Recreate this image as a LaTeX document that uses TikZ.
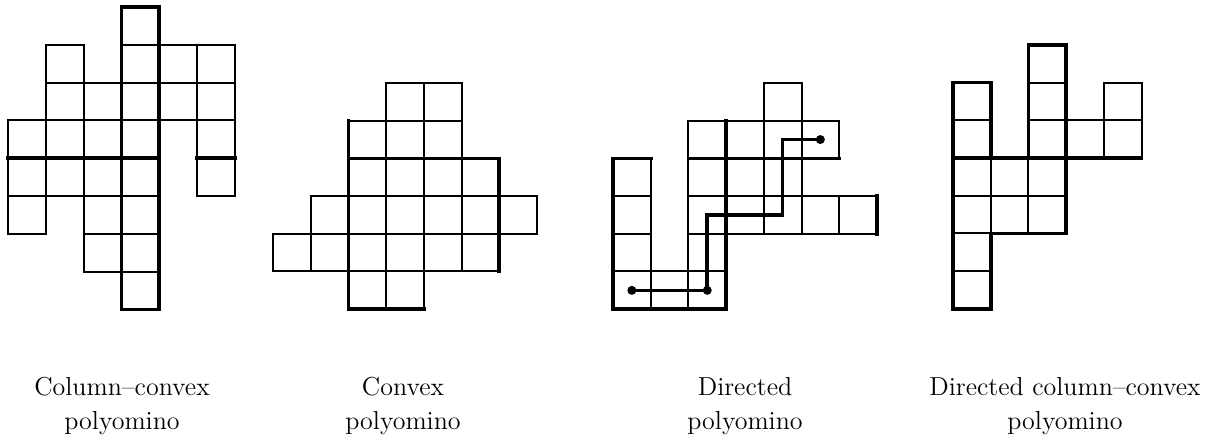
\documentclass[tikz,border=0pt]{standalone}
\begin{document}
\begin{tikzpicture}[x=0.5pt,y=-0.5pt,
  cell/.style={draw=black,line width=1pt},
  bold/.style={draw=black,line width=1.8pt,line cap=rect},
  walk/.style={draw=black,line width=1.8pt,line join=miter},
  dot/.style={circle,fill=black,inner sep=0pt,minimum size=4.5pt},
  lab/.style={anchor=base,inner sep=0pt,font=\fontsize{13}{16}\selectfont}]
\useasboundingbox (0,0) rectangle (1218,437);

% ---------- Column-convex polyomino ----------
\begin{scope}[shift={(8,7)},x=18.9pt,y=-18.9pt]
  \foreach \c/\r in {0/3,0/4,0/5, 1/1,1/2,1/3,1/4, 2/2,2/3,2/4,2/5,2/6,
                     3/0,3/1,3/2,3/3,3/4,3/5,3/6,3/7, 4/1,4/2, 5/1,5/2,5/3,5/4}
    \draw[cell] (\c,\r) rectangle ++(1,1);
  \draw[bold] (3,0) -- (3,8) (4,0) -- (4,8) (3,0) -- (4,0) (3,8) -- (4,8);
  \draw[bold] (0,4) -- (4,4) (5,4) -- (6,4);
\end{scope}

% ---------- Convex polyomino ----------
\begin{scope}[shift={(273,83)},x=18.85pt,y=-18.85pt]
  \foreach \c/\r in {3/0,4/0, 2/1,3/1,4/1, 2/2,3/2,4/2,5/2,
                     1/3,2/3,3/3,4/3,5/3,6/3, 0/4,1/4,2/4,3/4,4/4,5/4, 2/5,3/5}
    \draw[cell] (\c,\r) rectangle ++(1,1);
  \draw[bold] (2,1) -- (2,6) -- (4,6) (2,2) -- (6,2) -- (6,5);
\end{scope}

% ---------- Directed polyomino ----------
\begin{scope}[shift={(613,83)},x=18.85pt,y=-18.85pt]
  \foreach \c/\r in {0/2,0/3,0/4,0/5, 1/5, 2/1,2/2,2/3,2/4,2/5, 3/1,3/2,3/3,
                     4/0,4/1,4/2,4/3, 5/1,5/3, 6/3}
    \draw[cell] (\c,\r) rectangle ++(1,1);
  \draw[bold] (1,2) -- (0,2) -- (0,6) -- (3,6) -- (3,1) (2,2) -- (6,2) (7,3) -- (7,4);
  \node[dot] (d1) at (0.5,5.5) {};
  \node[dot] (d2) at (2.5,5.5) {};
  \node[dot] (d3) at (5.5,1.5) {};
  \coordinate (w1) at (2.5,3.5);
  \coordinate (w2) at (4.5,3.5);
  \coordinate (w3) at (4.5,1.5);
  \draw[walk] (d1.center) -- (d2.center) -- (w1) -- (w2) -- (w3) -- (d3.center);
\end{scope}

% ---------- Directed column-convex polyomino ----------
\begin{scope}[shift={(953,45)},x=18.85pt,y=-18.85pt]
  \foreach \c/\r in {0/1,0/2,0/3,0/4,0/5,0/6, 1/3,1/4, 2/0,2/1,2/2,2/3,2/4, 3/2, 4/1,4/2}
    \draw[cell] (\c,\r) rectangle ++(1,1);
  \draw[bold] (1,3) -- (1,1) -- (0,1) -- (0,7) -- (1,7) -- (1,5) -- (3,5) -- (3,0) -- (2,0) -- (2,3);
  \draw[bold] (0,3) -- (5,3);
\end{scope}

% ---------- Labels ----------
\node[lab] (l1a) at (122,395) {Column--convex};
\node[lab] (l1b) at (122,429) {polyomino};
\node[lab] (l2a) at (403,395) {Convex};
\node[lab] (l2b) at (403,429) {polyomino};
\node[lab] (l3a) at (745,395) {Directed};
\node[lab] (l3b) at (745,429) {polyomino};
\node[lab] (l4a) at (1065,395) {Directed column--convex};
\node[lab] (l4b) at (1065,429) {polyomino};
\end{tikzpicture}
\end{document}
